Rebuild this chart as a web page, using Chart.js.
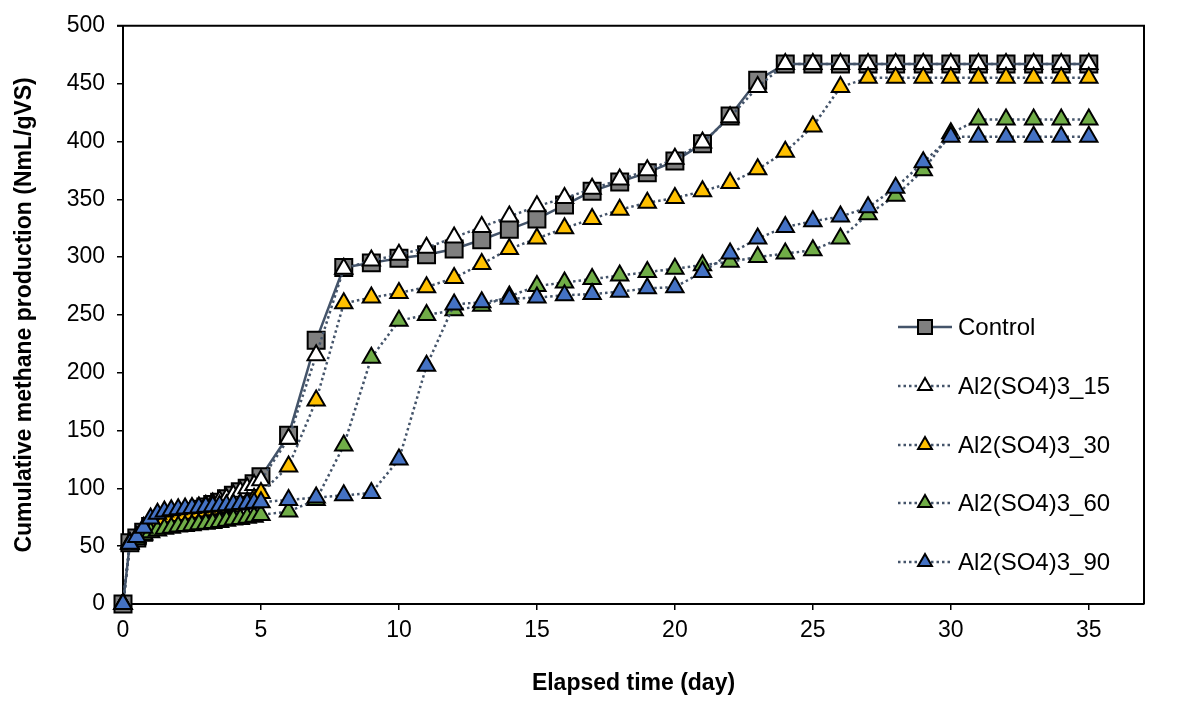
<!DOCTYPE html>
<html>
<head>
<meta charset="utf-8">
<script src="https://cdn.jsdelivr.net/npm/chart.js@4.4.0/dist/chart.umd.min.js"></script>
<style>
  html, body { margin: 0; padding: 0; background: #fff; }
</style>
</head>
<body>
<canvas id="mychart1" width="1181" height="709"></canvas>
<script>
// elapsed time (day)
const days = [0, 0.25, 0.5, 0.75, 1, 1.25, 1.5, 1.75, 2, 2.25, 2.5, 2.75, 3, 3.25, 3.5, 3.75, 4, 4.25, 4.5, 4.75, 5,
  6, 7, 8, 9, 10, 11, 12, 13, 14, 15, 16, 17, 18, 19, 20, 21, 22, 23, 24, 25, 26, 27, 28, 29, 30, 31, 32, 33, 34, 35];

// cumulative methane (NmL/gVS)
const control = [0, 53, 57, 62, 67, 70, 72, 74, 76, 78, 80, 82, 84, 86, 88, 91, 94, 97, 100, 104, 110,
  146, 228, 291, 295, 299, 302, 307, 315, 324, 333, 345, 357, 365, 373, 383, 398, 422, 453,
  467, 467, 467, 467, 467, 467, 467, 467, 467, 467, 467, 467];
const al15 = [0, 53, 58, 63, 68, 72, 74, 76, 78, 80, 81, 83, 85, 87, 89, 91, 94, 97, 100, 103, 107,
  143, 215, 290, 297, 302, 308, 317, 326, 335, 344, 351, 359, 367, 375, 385, 399, 421, 447,
  467, 467, 467, 467, 467, 467, 467, 467, 467, 467, 467, 467];
const al30 = [0, 52, 57, 63, 68, 71, 73, 75, 76, 77, 78, 79, 80, 81, 82, 83, 84, 86, 88, 91, 96,
  119, 176, 260, 265, 269, 274, 282, 294, 307, 316, 325, 333, 341, 347, 351, 357, 364, 376, 391, 413, 447,
  455, 455, 455, 455, 455, 455, 455, 455, 455];
const al60 = [0, 52, 56, 60, 62, 63.5, 65, 66, 67, 67.5, 68, 69, 69.5, 70, 71, 72, 73, 73.5, 74.5, 75.5, 77,
  80, 90, 137, 213, 245, 250, 254, 258, 266, 275, 278, 281, 284, 287, 290, 293, 296, 300, 303, 306, 316, 337, 353, 375, 407,
  419, 419, 419, 419, 419];
const al90 = [0, 52, 58, 66, 74, 78, 80, 81, 82, 82.5, 83, 83.5, 84, 84.5, 85, 85.5, 86, 86.5, 87, 87.5, 88,
  90, 92, 94, 96, 125, 206, 259, 261, 264, 265, 267, 268, 270, 273, 274, 287, 303, 316, 326, 331, 335, 343, 360, 382, 404,
  404, 404, 404, 404, 404];

const labels = ["Control", "Al2(SO4)3_15", "Al2(SO4)3_30", "Al2(SO4)3_60", "Al2(SO4)3_90"];
const xTicks = [0, 5, 10, 15, 20, 25, 30, 35];
const yTicks = [0, 50, 100, 150, 200, 250, 300, 350, 400, 450, 500];

const FONT = "'Liberation Sans', Arial, sans-serif";
const lineCol = "#44546a";

const toXY = (vals) => vals.map((v, i) => ({ x: days[i], y: v }));

const tri = (label, values, fill, ord) => ({
  label: label,
  data: toXY(values),
  showLine: true,
  borderColor: lineCol,
  borderWidth: 2.5,
  borderDash: [2.5, 3],
  pointStyle: "triangle",
  pointRadius: 10,
  pointBackgroundColor: fill,
  pointBorderColor: "#000",
  pointBorderWidth: 2,
  clip: false,
  order: ord
});

// legend drawn inside the plot, line + marker + text
const legendBox = {
  id: "legendBox",
  afterDraw(chart) {
    const ctx = chart.ctx;
    const ys = [327, 386, 445, 503, 562];
    chart.data.datasets.forEach((ds, i) => {
      const y = ys[i];
      ctx.save();
      ctx.strokeStyle = ds.borderColor;
      ctx.lineWidth = ds.borderWidth;
      ctx.setLineDash(ds.borderDash || []);
      ctx.beginPath();
      ctx.moveTo(898, y);
      ctx.lineTo(952, y);
      ctx.stroke();
      ctx.setLineDash([]);
      ctx.fillStyle = ds.pointBackgroundColor;
      ctx.strokeStyle = "#000";
      ctx.lineWidth = 2;
      ctx.beginPath();
      if (ds.pointStyle === "rect") {
        ctx.rect(925 - 7, y - 7, 14, 14);
      } else {
        const r = 8;
        ctx.moveTo(925, y - r);
        ctx.lineTo(925 + r * 0.866, y + r * 0.5);
        ctx.lineTo(925 - r * 0.866, y + r * 0.5);
        ctx.closePath();
      }
      ctx.fill();
      ctx.stroke();
      ctx.fillStyle = "#000";
      ctx.font = "24px " + FONT;
      ctx.textBaseline = "middle";
      ctx.fillText(ds.label, 958, y + 1);
      ctx.restore();
    });
  }
};

// top and right sides of the plot frame
const frame = {
  id: "frame",
  afterDraw(chart) {
    const { ctx, chartArea } = chart;
    ctx.save();
    ctx.strokeStyle = "#000";
    ctx.lineWidth = 2;
    ctx.beginPath();
    ctx.moveTo(chartArea.left - 6, chartArea.top);
    ctx.lineTo(chartArea.right, chartArea.top);
    ctx.lineTo(chartArea.right, chartArea.bottom);
    ctx.stroke();
    ctx.restore();
  }
};

const data = {
  datasets: [
    {
      label: labels[0],
      data: toXY(control),
      showLine: true,
      borderColor: lineCol,
      borderWidth: 2.5,
      pointStyle: "rect",
      pointRadius: 12,
      pointBackgroundColor: "#7f7f7f",
      pointBorderColor: "#000",
      pointBorderWidth: 2,
      clip: false,
      order: 5
    },
    tri(labels[1], al15, "#ffffff", 4),
    tri(labels[2], al30, "#ffc000", 3),
    tri(labels[3], al60, "#70ad47", 2),
    tri(labels[4], al90, "#4472c4", 1)
  ]
};

const config = {
  type: "scatter",
  data: data,
  options: {
    responsive: false,
    animation: false,
    layout: { padding: { top: 25, right: 37, left: 0, bottom: 0 } },
    plugins: {
      legend: { display: false },
      tooltip: { enabled: false }
    },
    scales: {
      x: {
        type: "linear",
        min: 0,
        max: 37,
        afterBuildTicks: (s) => { s.ticks = xTicks.map(v => ({ value: v })); },
        afterFit: (s) => { s.height = 105; },
        grid: { drawOnChartArea: false, drawTicks: true, tickLength: 6, color: "#000", lineWidth: 1.5 },
        border: { color: "#000", width: 2 },
        ticks: { font: { family: FONT, size: 23 }, color: "#000", padding: 7, maxRotation: 0 },
        title: {
          display: true,
          text: "Elapsed time (day)",
          color: "#000",
          font: { family: FONT, size: 23, weight: "bold" },
          padding: { top: 0, bottom: 12 }
        }
      },
      y: {
        min: 0,
        max: 500,
        afterBuildTicks: (s) => { s.ticks = yTicks.map(v => ({ value: v })); },
        afterFit: (s) => { s.width = 123; },
        grid: { drawOnChartArea: false, drawTicks: true, tickLength: 6, color: "#000", lineWidth: 1.5 },
        border: { color: "#000", width: 2 },
        ticks: { font: { family: FONT, size: 23 }, color: "#000", padding: 12 },
        title: {
          display: true,
          text: "Cumulative methane production (NmL/gVS)",
          color: "#000",
          font: { family: FONT, size: 23, weight: "bold" },
          padding: { top: 11, bottom: 0 }
        }
      }
    }
  },
  plugins: [frame, legendBox]
};

const myChart = new Chart(document.querySelector("#mychart1"), config);
</script>
</body>
</html>
